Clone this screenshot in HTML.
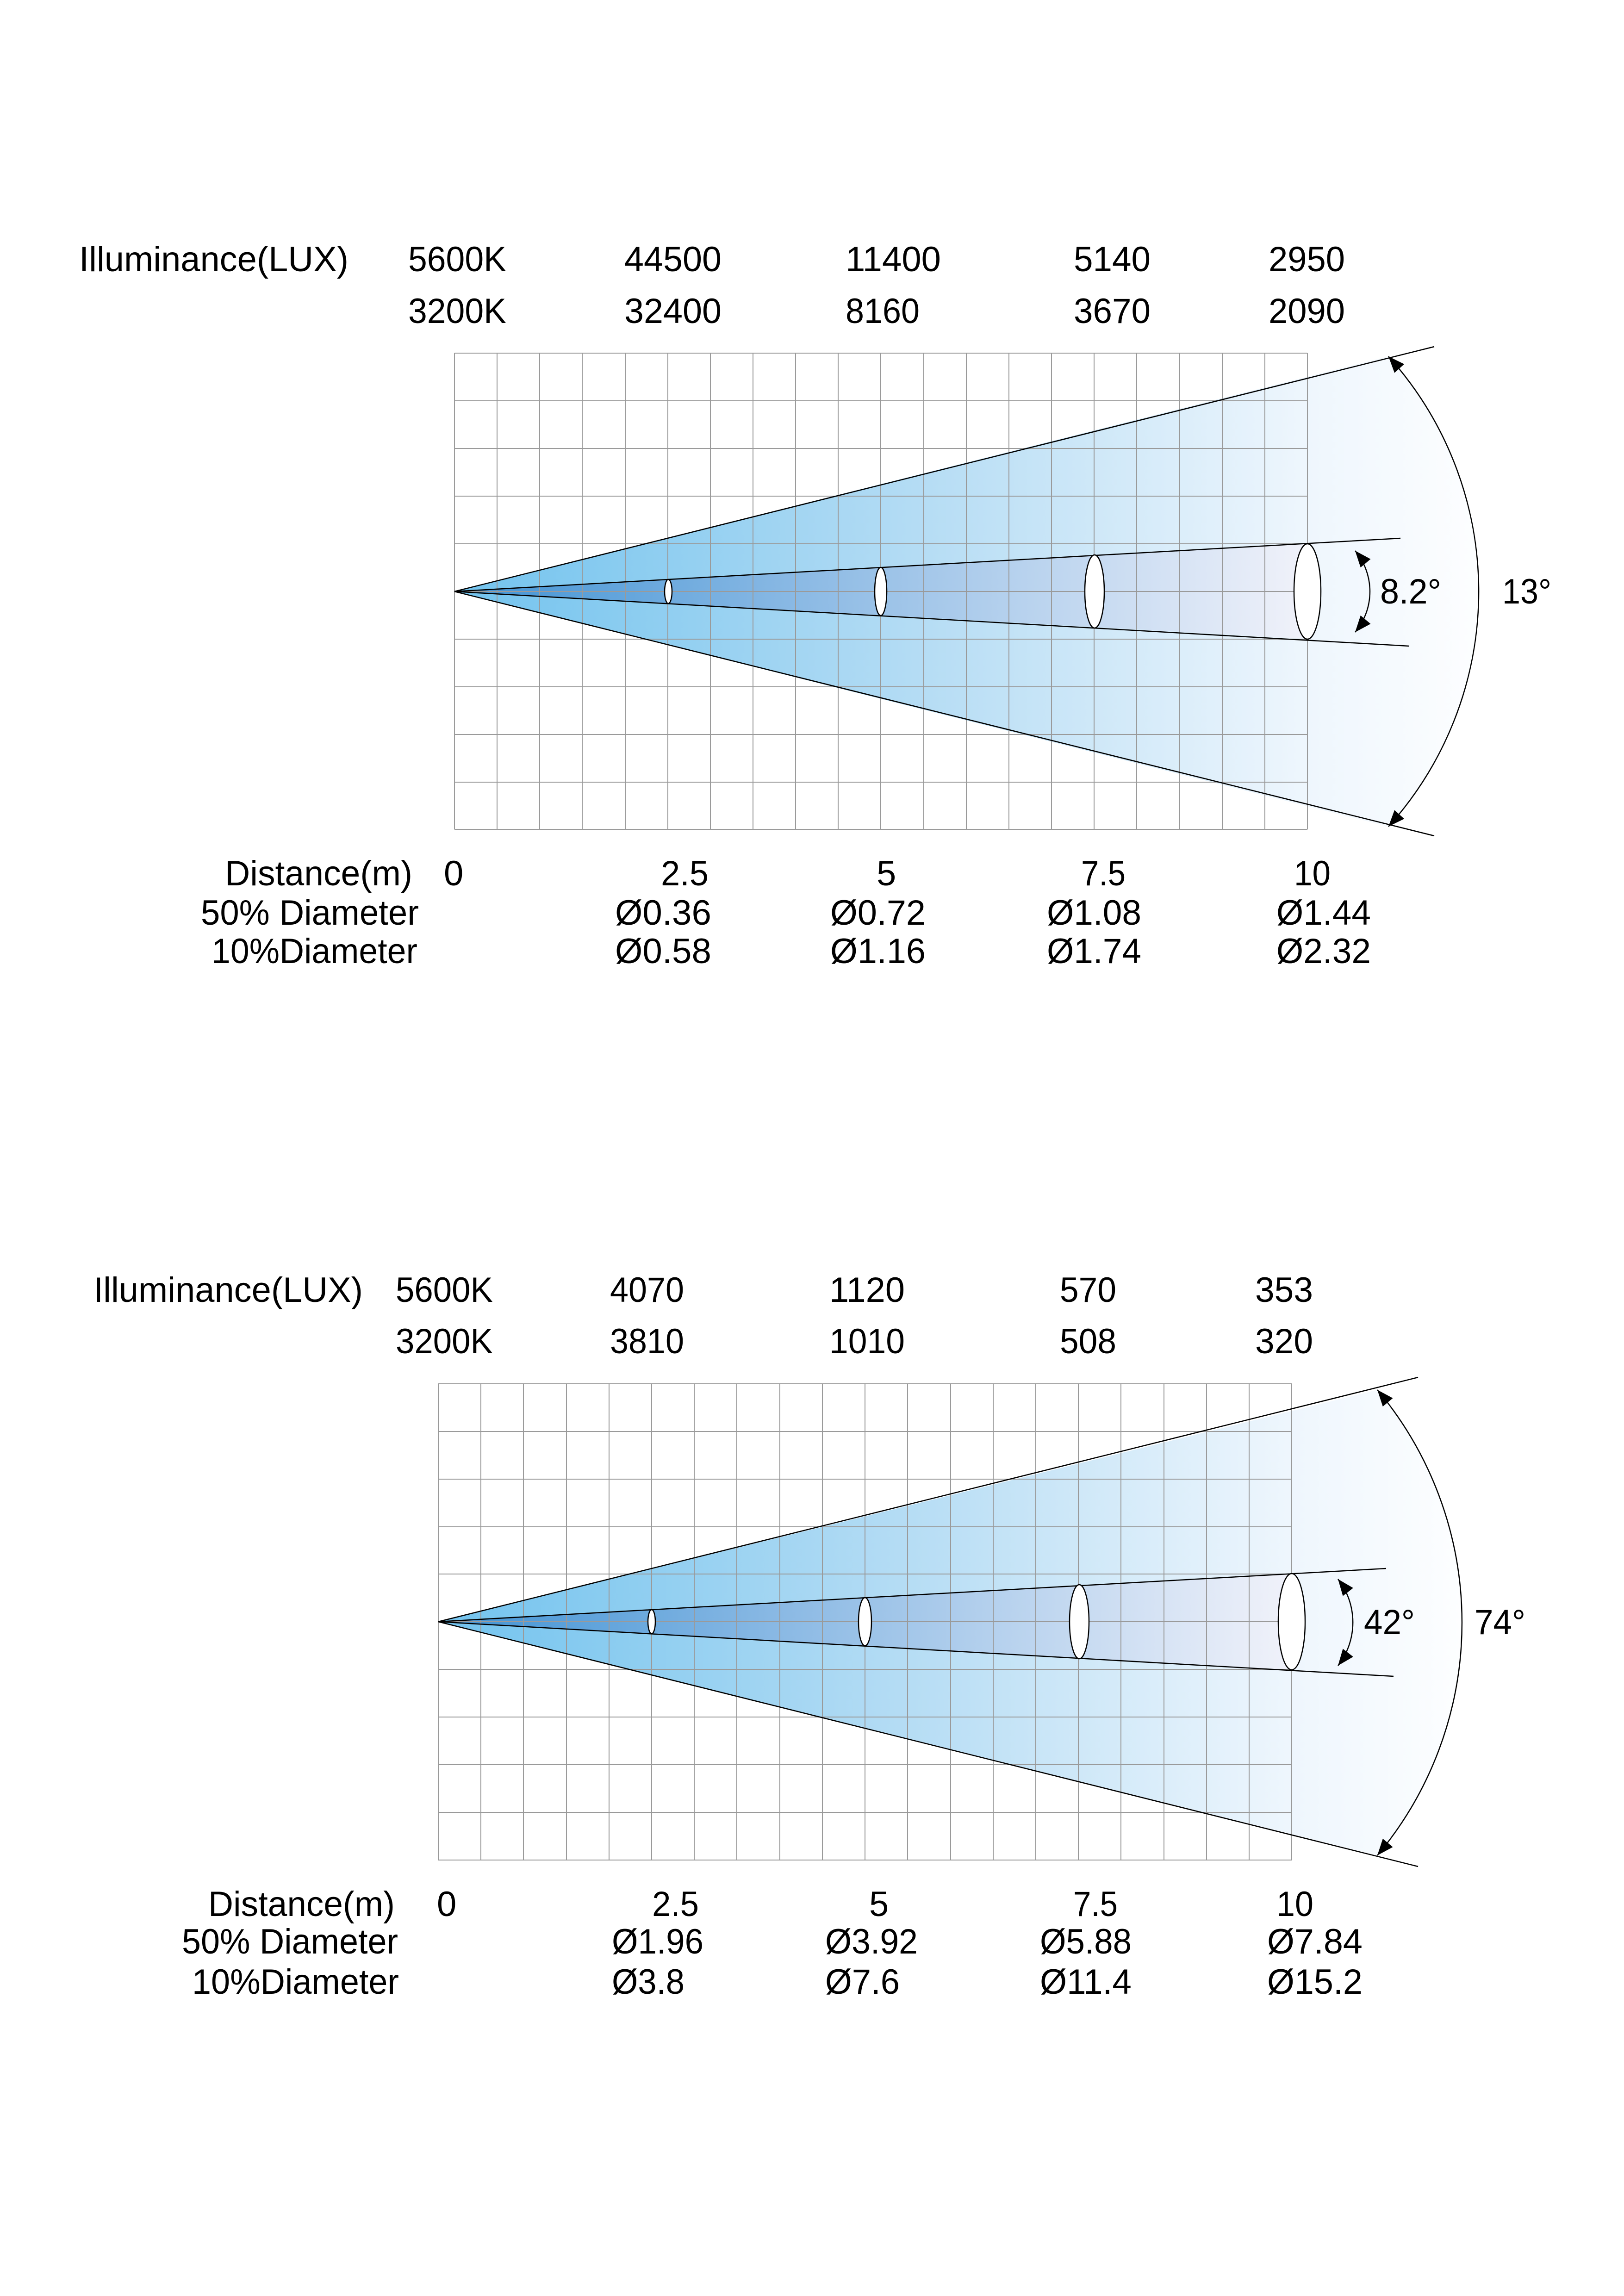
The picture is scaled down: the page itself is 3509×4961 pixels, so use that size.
<!DOCTYPE html>
<html><head><meta charset="utf-8"><style>html,body{margin:0;padding:0;background:#fff}svg{display:block}</style></head>
<body>
<svg width="3509" height="4961" viewBox="0 0 3509 4961" xmlns="http://www.w3.org/2000/svg" font-family="'Liberation Sans Narrow','Liberation Sans',sans-serif" font-size="76" fill="#000">
<defs>
<linearGradient id="go1" gradientUnits="userSpaceOnUse" x1="982" y1="0" x2="3195" y2="0">
<stop offset="0" stop-color="#72c3ee"/><stop offset="0.45" stop-color="#b4dcf4"/><stop offset="0.83" stop-color="#eef6fd"/><stop offset="1" stop-color="#fdfeff"/></linearGradient>
<linearGradient id="gi1" gradientUnits="userSpaceOnUse" x1="982" y1="0" x2="2825" y2="0">
<stop offset="0" stop-color="#3f92d4"/><stop offset="0.4" stop-color="#8ab9e4"/><stop offset="0.75" stop-color="#c6daf1"/><stop offset="1" stop-color="#f1f2fa"/></linearGradient>
<linearGradient id="go2" gradientUnits="userSpaceOnUse" x1="947" y1="0" x2="3159" y2="0">
<stop offset="0" stop-color="#72c3ee"/><stop offset="0.45" stop-color="#b4dcf4"/><stop offset="0.83" stop-color="#eef6fd"/><stop offset="1" stop-color="#fdfeff"/></linearGradient>
<linearGradient id="gi2" gradientUnits="userSpaceOnUse" x1="947" y1="0" x2="2791" y2="0">
<stop offset="0" stop-color="#3f92d4"/><stop offset="0.4" stop-color="#8ab9e4"/><stop offset="0.75" stop-color="#c6daf1"/><stop offset="1" stop-color="#f1f2fa"/></linearGradient>
<marker id="ar" markerUnits="userSpaceOnUse" markerWidth="40" markerHeight="40" viewBox="-32 -16 34 32" refX="0" refY="0" orient="auto-start-reverse">
<path d="M0,0 L-30,-12 L-30,12 z" fill="#000"/></marker>
</defs>

<!-- CHART 1 -->
<path d="M982 1278 L3000 770 A759 759 0 0 1 3000 1786 Z" fill="url(#go1)"/>
<path d="M982 1278 L2825 1174 L2825 1380 Z" fill="url(#gi1)"/>
<g stroke="#9a9a9a" stroke-width="2">
<path d="M982 763H2825M982 866H2825M982 969H2825M982 1072H2825M982 1175H2825M982 1278H2825M982 1381H2825M982 1484H2825M982 1587H2825M982 1690H2825M982 1792H2825"/>
<path d="M982 763V1792M1074 763V1792M1166 763V1792M1258 763V1792M1351 763V1792M1443 763V1792M1535 763V1792M1627 763V1792M1719 763V1792M1811 763V1792M1903 763V1792M1996 763V1792M2088 763V1792M2180 763V1792M2272 763V1792M2364 763V1792M2456 763V1792M2549 763V1792M2641 763V1792M2733 763V1792M2825 763V1792"/>
</g>
<g stroke="#000" stroke-width="2.5" fill="none">
<path d="M982 1278L3099 749M982 1278L3099 1806M982 1278L3026 1163M982 1278L3045 1396"/>
<path d="M3000 770 A759 759 0 0 1 3000 1786" marker-start="url(#ar)" marker-end="url(#ar)"/>
<path d="M2928 1190 A137 137 0 0 1 2928 1366" marker-start="url(#ar)" marker-end="url(#ar)"/>
</g>
<g stroke="#000" stroke-width="2.5" fill="#fff">
<ellipse cx="1444" cy="1278" rx="8" ry="26"/><ellipse cx="1903" cy="1278" rx="13" ry="52"/><ellipse cx="2365" cy="1278" rx="21" ry="79"/><ellipse cx="2825" cy="1278" rx="29" ry="103"/>
</g>
<text x="2982" y="1304" textLength="132" lengthAdjust="spacingAndGlyphs">8.2°</text>
<text x="3246" y="1304" textLength="106" lengthAdjust="spacingAndGlyphs">13°</text>

<g lengthAdjust="spacingAndGlyphs">
<text x="171" y="586" textLength="582" lengthAdjust="spacingAndGlyphs">Illuminance(LUX)</text>
<text x="882" y="586" textLength="212" lengthAdjust="spacingAndGlyphs">5600K</text>
<text x="1349" y="586" textLength="210" lengthAdjust="spacingAndGlyphs">44500</text>
<text x="1827" y="586" textLength="206" lengthAdjust="spacingAndGlyphs">11400</text>
<text x="2320" y="586" textLength="166" lengthAdjust="spacingAndGlyphs">5140</text>
<text x="2741" y="586" textLength="165" lengthAdjust="spacingAndGlyphs">2950</text>
<text x="882" y="698" textLength="212" lengthAdjust="spacingAndGlyphs">3200K</text>
<text x="1349" y="698" textLength="210" lengthAdjust="spacingAndGlyphs">32400</text>
<text x="1827" y="698" textLength="160" lengthAdjust="spacingAndGlyphs">8160</text>
<text x="2320" y="698" textLength="166" lengthAdjust="spacingAndGlyphs">3670</text>
<text x="2741" y="698" textLength="165" lengthAdjust="spacingAndGlyphs">2090</text>

<text x="486" y="1913" textLength="405" lengthAdjust="spacingAndGlyphs">Distance(m)</text>
<text x="959" y="1913">0</text>
<text x="1428" y="1913" textLength="103" lengthAdjust="spacingAndGlyphs">2.5</text>
<text x="1894" y="1913">5</text>
<text x="2336" y="1913" textLength="96" lengthAdjust="spacingAndGlyphs">7.5</text>
<text x="2796" y="1913" textLength="79" lengthAdjust="spacingAndGlyphs">10</text>
<text x="434" y="1998" textLength="471" lengthAdjust="spacingAndGlyphs">50% Diameter</text>
<text x="1329" y="1998" textLength="208" lengthAdjust="spacingAndGlyphs">Ø0.36</text>
<text x="1794" y="1998" textLength="206" lengthAdjust="spacingAndGlyphs">Ø0.72</text>
<text x="2262" y="1998" textLength="204" lengthAdjust="spacingAndGlyphs">Ø1.08</text>
<text x="2758" y="1998" textLength="204" lengthAdjust="spacingAndGlyphs">Ø1.44</text>
<text x="457" y="2081" textLength="445" lengthAdjust="spacingAndGlyphs">10%Diameter</text>
<text x="1329" y="2081" textLength="208" lengthAdjust="spacingAndGlyphs">Ø0.58</text>
<text x="1794" y="2081" textLength="206" lengthAdjust="spacingAndGlyphs">Ø1.16</text>
<text x="2262" y="2081" textLength="204" lengthAdjust="spacingAndGlyphs">Ø1.74</text>
<text x="2758" y="2081" textLength="204" lengthAdjust="spacingAndGlyphs">Ø2.32</text>
</g>

<!-- CHART 2 -->
<path d="M947 3504 L2976 3003 A783 783 0 0 1 2976 4009 Z" fill="url(#go2)"/>
<path d="M947 3504 L2791 3400 L2791 3608 Z" fill="url(#gi2)"/>
<g stroke="#9a9a9a" stroke-width="2">
<path d="M947 2990H2791M947 3093H2791M947 3196H2791M947 3299H2791M947 3401H2791M947 3504H2791M947 3607H2791M947 3710H2791M947 3813H2791M947 3916H2791M947 4019H2791"/>
<path d="M947 2990V4019M1039 2990V4019M1131 2990V4019M1224 2990V4019M1316 2990V4019M1408 2990V4019M1500 2990V4019M1592 2990V4019M1685 2990V4019M1777 2990V4019M1869 2990V4019M1961 2990V4019M2054 2990V4019M2146 2990V4019M2238 2990V4019M2330 2990V4019M2422 2990V4019M2515 2990V4019M2607 2990V4019M2699 2990V4019M2791 2990V4019"/>
</g>
<g stroke="#000" stroke-width="2.5" fill="none">
<path d="M947 3504L3064 2976M947 3504L3064 4033M947 3504L2995 3389M947 3504L3011 3622"/>
<path d="M2976 3003 A783 783 0 0 1 2976 4009" marker-start="url(#ar)" marker-end="url(#ar)"/>
<path d="M2891 3412 A152 152 0 0 1 2891 3599" marker-start="url(#ar)" marker-end="url(#ar)"/>
</g>
<g stroke="#000" stroke-width="2.5" fill="#fff">
<ellipse cx="1408" cy="3504" rx="8" ry="26"/><ellipse cx="1869" cy="3504" rx="14" ry="52"/><ellipse cx="2332" cy="3504" rx="21" ry="80"/><ellipse cx="2791" cy="3504" rx="29" ry="104"/>
</g>
<text x="2947" y="3531" textLength="110" lengthAdjust="spacingAndGlyphs">42°</text>
<text x="3186" y="3531" textLength="110" lengthAdjust="spacingAndGlyphs">74°</text>

<g>
<text x="202" y="2813" textLength="582" lengthAdjust="spacingAndGlyphs">Illuminance(LUX)</text>
<text x="855" y="2813" textLength="210" lengthAdjust="spacingAndGlyphs">5600K</text>
<text x="1318" y="2813" textLength="160" lengthAdjust="spacingAndGlyphs">4070</text>
<text x="1792" y="2813" textLength="163" lengthAdjust="spacingAndGlyphs">1120</text>
<text x="2290" y="2813" textLength="122" lengthAdjust="spacingAndGlyphs">570</text>
<text x="2712" y="2813" textLength="125" lengthAdjust="spacingAndGlyphs">353</text>
<text x="855" y="2924" textLength="210" lengthAdjust="spacingAndGlyphs">3200K</text>
<text x="1318" y="2924" textLength="160" lengthAdjust="spacingAndGlyphs">3810</text>
<text x="1792" y="2924" textLength="163" lengthAdjust="spacingAndGlyphs">1010</text>
<text x="2290" y="2924" textLength="122" lengthAdjust="spacingAndGlyphs">508</text>
<text x="2712" y="2924" textLength="125" lengthAdjust="spacingAndGlyphs">320</text>

<text x="450" y="4140" textLength="403" lengthAdjust="spacingAndGlyphs">Distance(m)</text>
<text x="944" y="4140">0</text>
<text x="1409" y="4140" textLength="101" lengthAdjust="spacingAndGlyphs">2.5</text>
<text x="1878" y="4140">5</text>
<text x="2319" y="4140" textLength="96" lengthAdjust="spacingAndGlyphs">7.5</text>
<text x="2758" y="4140" textLength="80" lengthAdjust="spacingAndGlyphs">10</text>
<text x="393" y="4221" textLength="467" lengthAdjust="spacingAndGlyphs">50% Diameter</text>
<text x="1322" y="4221" textLength="198" lengthAdjust="spacingAndGlyphs">Ø1.96</text>
<text x="1783" y="4221" textLength="200" lengthAdjust="spacingAndGlyphs">Ø3.92</text>
<text x="2247" y="4221" textLength="198" lengthAdjust="spacingAndGlyphs">Ø5.88</text>
<text x="2738" y="4221" textLength="206" lengthAdjust="spacingAndGlyphs">Ø7.84</text>
<text x="415" y="4308" textLength="447" lengthAdjust="spacingAndGlyphs">10%Diameter</text>
<text x="1322" y="4308" textLength="157" lengthAdjust="spacingAndGlyphs">Ø3.8</text>
<text x="1783" y="4308" textLength="161" lengthAdjust="spacingAndGlyphs">Ø7.6</text>
<text x="2247" y="4308" textLength="198" lengthAdjust="spacingAndGlyphs">Ø11.4</text>
<text x="2738" y="4308" textLength="206" lengthAdjust="spacingAndGlyphs">Ø15.2</text>
</g>
</svg>
</body></html>
